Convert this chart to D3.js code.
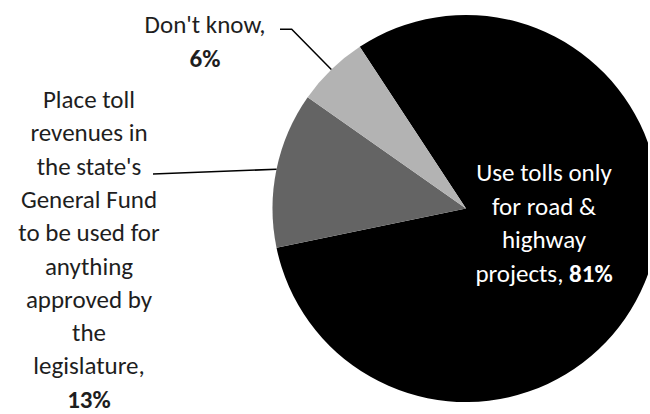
<!DOCTYPE html>
<html>
<head>
<meta charset="utf-8">
<script src="https://cdnjs.cloudflare.com/ajax/libs/d3/7.8.5/d3.min.js"></script>
<style>
  html, body { margin: 0; padding: 0; background: #fff; }
  svg { display: block; }
  text { font-family: Carlito, Lato, "Liberation Sans", sans-serif; }
</style>
</head>
<body>
<svg id="chart" width="650" height="414"></svg>
<script>
// Survey: how should toll revenues be used?
const categories = [
  "Use tolls only for road & highway projects",
  "Place toll revenues in the state's General Fund to be used for anything approved by the legislature",
  "Don't know"
];
const values = [81, 13, 6];
const sliceColors = ["#000000", "#646464", "#b3b3b3"];

// Label text, broken into lines, with the percentage part set in bold
const labelLines = [
  [["Use tolls only"], ["for road &"], ["highway"], ["projects, ", "81%"]],
  [["Place toll"], ["revenues in"], ["the state's"], ["General Fund"], ["to be used for"],
   ["anything"], ["approved by"], ["the"], ["legislature,"], ["", "13%"]],
  [["Don't know,"], ["", "6%"]]
];

const width = 650, height = 414;
const cx = 466, cy = 208.5, radius = 193.5;
const startDeg = -33.3;
const fontSize = 25;

const svg = d3.select("#chart");

svg.append("defs").append("clipPath").attr("id", "plotClip")
  .append("rect").attr("x", 0).attr("y", 0).attr("width", 648).attr("height", height);

const pie = d3.pie()
  .sort(null)
  .value(d => d)
  .startAngle(startDeg * Math.PI / 180)
  .endAngle(startDeg * Math.PI / 180 + 2 * Math.PI);

const arcs = pie(values);
const arc = d3.arc().innerRadius(0).outerRadius(radius);

const g = svg.append("g")
  .attr("clip-path", "url(#plotClip)")
  .append("g")
  .attr("transform", `translate(${cx},${cy})`);

g.selectAll("path.slice")
  .data(arcs)
  .join("path")
  .attr("class", "slice")
  .attr("d", arc)
  .attr("fill", (d, i) => sliceColors[i]);

// point on the rim at the middle of a slice
function rimPoint(a) {
  const m = (a.startAngle + a.endAngle) / 2;
  return [cx + radius * Math.sin(m), cy - radius * Math.cos(m)];
}

// multi-line centred label
function drawLabel(lines, x, firstBaseline, lineH, color) {
  const t = svg.append("text")
    .attr("text-anchor", "middle")
    .attr("font-size", fontSize)
    .attr("fill", color);
  lines.forEach((parts, i) => {
    const ts = t.append("tspan").attr("x", x).attr("y", firstBaseline + i * lineH);
    if (parts[0]) ts.text(parts[0]);
    if (parts.length > 1) {
      if (parts[0]) {
        ts.append("tspan").attr("font-weight", "bold").text(parts[1]);
      } else {
        ts.attr("font-weight", "bold").text(parts[1]);
      }
    }
  });
  return t;
}

// Inner label on the large slice
drawLabel(labelLines[0], 544, 181.2, 33.5, "#ffffff");

// General Fund label on the left
drawLabel(labelLines[1], 89, 108, 33.3, "#1e1e1e");

// Don't know label at the top
drawLabel(labelLines[2], 205, 33.3, 33.5, "#1e1e1e");

// Leader lines to the rim of the smaller slices
const leaderLine = d3.line();
const pGF = rimPoint(arcs[1]);
svg.append("path")
  .attr("d", leaderLine([[153, 174], pGF]))
  .attr("fill", "none").attr("stroke", "#000").attr("stroke-width", 1.5);

const pDK = rimPoint(arcs[2]);
svg.append("path")
  .attr("d", leaderLine([[280, 29.3], [291.7, 29.3], pDK]))
  .attr("fill", "none").attr("stroke", "#000").attr("stroke-width", 1.5);
</script>
</body>
</html>
